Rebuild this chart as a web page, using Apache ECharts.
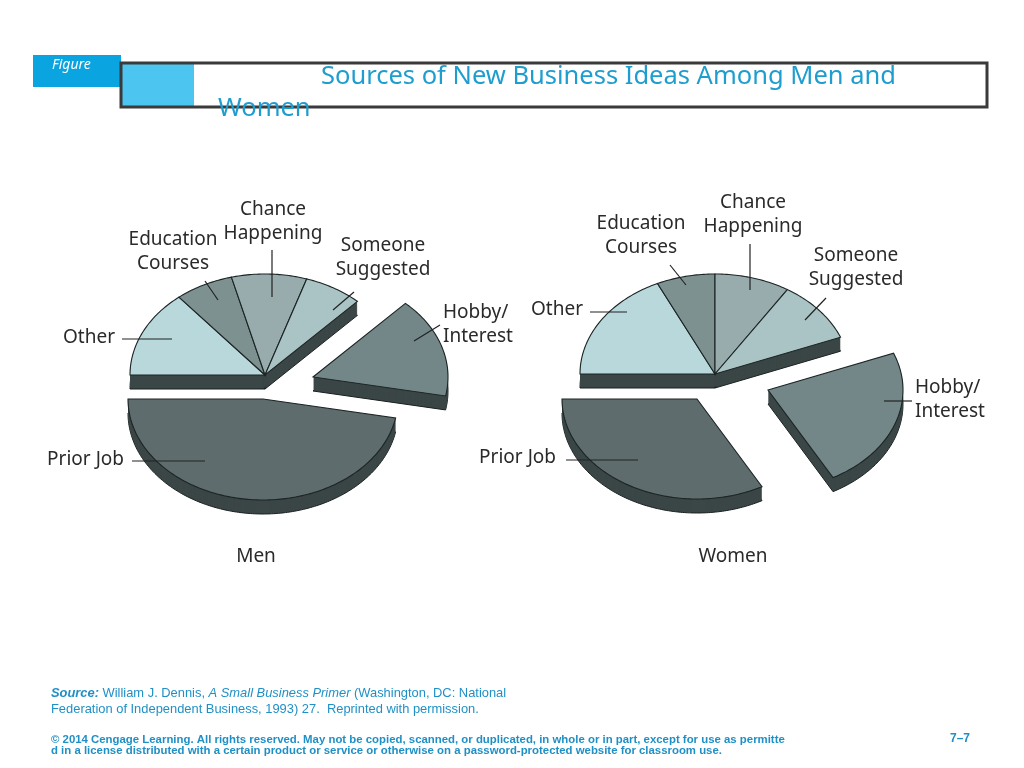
<!DOCTYPE html>
<html>
<head>
<meta charset="utf-8">
<script src="https://cdn.jsdelivr.net/npm/echarts@6/dist/echarts.min.js"></script>
<style>
  html, body { margin: 0; padding: 0; background: #fff; }
  #chart { width: 1024px; height: 768px; }
</style>
</head>
<body>
<div id="chart"></div>
<script>
// slices go clockwise from the left edge of each pie
const categories = ['Other', 'Education\nCourses', 'Chance\nHappening', 'Someone\nSuggested', 'Hobby/\nInterest', 'Prior Job']
const menValues = [14, 7, 9, 7, 16, 47]
const womenValues = [18, 7, 9, 10, 23, 33]

const sliceColors = ['#b9d8db', '#7e9191', '#98acae', '#aac4c6', '#738789', '#5e6c6d']
const sideColor = '#3b4646'
const labelFont = '19px "Noto Sans"'
const footColor = '#1f90c6'

// where each pie sits and how its labels are placed (pixels)
const menLayout = {
    cx: 265, cy: 375, rx: 135, ry: 101, depth: 14,
    explode: [[0, 0], [0, 0], [0, 0], [0, 0], [48, 2], [-2, 24]],
    labels: [[115, 338, 'right'], [173, 252, 'center'], [273, 222, 'center'], [383, 258, 'center'], [443, 325, 'left'], [124, 460, 'right']],
    leaders: [[122, 339, 172, 339], [205, 281, 218, 300], [272, 250, 272, 297], [354, 292, 333, 310], [440, 325, 414, 341], [132, 461, 205, 461]]
}
const womenLayout = {
    cx: 715, cy: 374, rx: 135, ry: 100, depth: 14,
    explode: [[0, 0], [0, 0], [0, 0], [0, 0], [53, 16], [-18, 25]],
    labels: [[583, 310, 'right'], [641, 236, 'center'], [753, 215, 'center'], [856, 268, 'center'], [915, 400, 'left'], [556, 458, 'right']],
    leaders: [[590, 312, 627, 312], [670, 265, 686, 285], [750, 244, 750, 290], [826, 298, 805, 320], [912, 401, 884, 401], [566, 460, 638, 460]]
}

function slicePoints(cx, cy, rx, ry, a0, a1) {
    const pts = [[cx, cy]]
    const n = Math.max(2, Math.ceil(Math.abs(a0 - a1)))
    for (let s = 0; s <= n; s++) {
        const a = (a0 + (a1 - a0) * s / n) * Math.PI / 180
        pts.push([cx + rx * Math.cos(a), cy - ry * Math.sin(a)])
    }
    return pts
}

function pieRenderer(values, lay) {
    const total = values.reduce((a, b) => a + b, 0)
    return function (params, api) {
        const i = params.dataIndex
        const v = api.value(0)
        let before = 0
        for (let k = 0; k < i; k++) before += values[k]
        const a0 = 180 - before / total * 360
        const a1 = 180 - (before + v) / total * 360
        const cx = lay.cx + lay.explode[i][0]
        const cy = lay.cy + lay.explode[i][1]
        const top = slicePoints(cx, cy, lay.rx, lay.ry, a0, a1)
        const children = []
        // side of the slice: stacked copies pushed down by the depth
        for (let k = lay.depth; k >= 1; k--) {
            children.push({
                type: 'polygon',
                shape: { points: top.map(p => [p[0], p[1] + k]) },
                style: { fill: sideColor, stroke: k === lay.depth ? '#1a2020' : null, lineWidth: 1 },
                z2: k === lay.depth ? 1 : 2
            })
        }
        children.push({
            type: 'polygon',
            shape: { points: top },
            style: { fill: sliceColors[i], stroke: '#1c2424', lineWidth: 1.1 },
            z2: 10
        })
        const ld = lay.leaders[i]
        children.push({
            type: 'line',
            shape: { x1: ld[0], y1: ld[1], x2: ld[2], y2: ld[3] },
            style: { stroke: '#222', lineWidth: 1.2 },
            z2: 20
        })
        const lb = lay.labels[i]
        children.push({
            type: 'text',
            x: lb[0], y: lb[1],
            style: { text: categories[i], fill: '#2a2a2a', font: labelFont, align: lb[2], verticalAlign: 'middle', lineHeight: 24 },
            z2: 20
        })
        return { type: 'group', children: children }
    }
}

var mychart = echarts.init(document.getElementById('chart'))

let option = {
    animation: false,
    backgroundColor: '#fff',
    graphic: [
        { type: 'rect', shape: { x: 33, y: 55, width: 88, height: 32 }, style: { fill: '#0aa4e1' } },
        { type: 'text', x: 52, y: 65, style: { text: 'Figure', fill: '#fff', font: 'italic 14px "Noto Sans"', verticalAlign: 'middle' } },
        { type: 'rect', shape: { x: 121, y: 63, width: 73, height: 44 }, style: { fill: '#4cc5f1' } },
        { type: 'rect', shape: { x: 121, y: 63, width: 866, height: 44 }, style: { fill: null, stroke: '#3a3a3a', lineWidth: 3 } },
        { type: 'text', x: 321, y: 77, style: { text: 'Sources of New Business Ideas Among Men and', fill: '#1e9dcf', font: '25.5px "Noto Sans"', verticalAlign: 'middle' } },
        { type: 'text', x: 218, y: 109, style: { text: 'Women', fill: '#1e9dcf', font: '25.5px "Noto Sans"', verticalAlign: 'middle' } },
        { type: 'text', x: 256, y: 557, style: { text: 'Men', fill: '#2a2a2a', font: labelFont, align: 'center', verticalAlign: 'middle' } },
        { type: 'text', x: 733, y: 557, style: { text: 'Women', fill: '#2a2a2a', font: labelFont, align: 'center', verticalAlign: 'middle' } },
        {
            type: 'text', x: 51, y: 693,
            style: {
                text: '{b|Source:} William J. Dennis, {i|A Small Business Primer} (Washington, DC: National',
                fill: footColor, font: '12.9px "Liberation Sans"', verticalAlign: 'middle',
                rich: {
                    b: { fill: footColor, font: 'italic bold 12.9px "Liberation Sans"' },
                    i: { fill: footColor, font: 'italic 12.9px "Liberation Sans"' }
                }
            }
        },
        { type: 'text', x: 51, y: 709, style: { text: 'Federation of Independent Business, 1993) 27.  Reprinted with permission.', fill: footColor, font: '12.9px "Liberation Sans"', verticalAlign: 'middle' } },
        { type: 'text', x: 51, y: 740, style: { text: '© 2014 Cengage Learning. All rights reserved. May not be copied, scanned, or duplicated, in whole or in part, except for use as permitte', fill: footColor, font: 'bold 11.4px "Liberation Sans"', verticalAlign: 'middle' } },
        { type: 'text', x: 51, y: 751, style: { text: 'd in a license distributed with a certain product or service or otherwise on a password-protected website for classroom use.', fill: footColor, font: 'bold 11.4px "Liberation Sans"', verticalAlign: 'middle' } },
        { type: 'text', x: 950, y: 739, style: { text: '7–7', fill: footColor, font: 'bold 12px "Liberation Sans"', verticalAlign: 'middle' } }
    ],
    series: [
        {
            type: 'custom',
            name: 'Men',
            coordinateSystem: 'none',
            renderItem: pieRenderer(menValues, menLayout),
            data: menValues.map(v => [v])
        },
        {
            type: 'custom',
            name: 'Women',
            coordinateSystem: 'none',
            renderItem: pieRenderer(womenValues, womenLayout),
            data: womenValues.map(v => [v])
        }
    ]
}
mychart.setOption(option)
</script>
</body>
</html>
